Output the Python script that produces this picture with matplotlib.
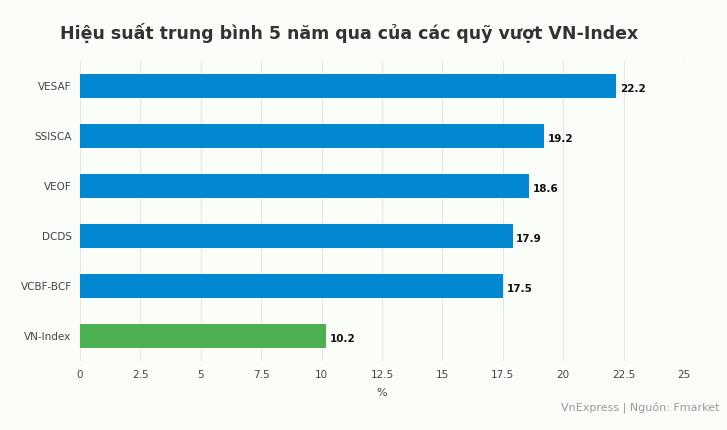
import matplotlib.pyplot as plt

funds = ["VESAF", "SSISCA", "VEOF", "DCDS", "VCBF-BCF", "VN-Index"]
returns = [22.2, 19.2, 18.6, 17.9, 17.5, 10.2]
colors = ["#0288d1"] * 5 + ["#4caf50"]
xticks = [0, 2.5, 5, 7.5, 10, 12.5, 15, 17.5, 20, 22.5, 25]

bg = "#fbfdf9"
fig = plt.figure(figsize=(7.27, 4.30), dpi=100, facecolor=bg)
ax = fig.add_axes([0.110, 0.160, 0.831, 0.698], facecolor=bg)

y = list(range(len(funds)))[::-1]
ax.barh(y, returns, height=0.48, color=colors, zorder=3)
for yi, v in zip(y, returns):
    ax.text(v + 0.15, yi - 0.05, f"{v}", va="center", ha="left",
            fontsize=7.5, fontweight="bold", color="#111111")

ax.set_yticks(y)
ax.set_yticklabels(funds, fontsize=7.5, color="#444444")
ax.set_xticks(xticks)
ax.set_xticklabels([f"{t:g}" for t in xticks], fontsize=7.5, color="#444444")
ax.set_xlim(0, 25)
ax.set_ylim(-0.5, 5.5)
ax.grid(axis="x", color="#e6e6e6", linewidth=0.8, zorder=0)
ax.tick_params(length=0, pad=6)
for s in ax.spines.values():
    s.set_visible(False)
ax.set_xlabel("%", fontsize=8, color="#444444", labelpad=6)

fig.text(0.48, 0.923, "Hiệu suất trung bình 5 năm qua của các quỹ vượt VN-Index",
         ha="center", va="center", fontsize=12.5, fontweight="bold", color="#333333")
fig.text(0.99, 0.053, "VnExpress | Nguồn: Fmarket", ha="right", va="center",
         fontsize=8, color="#999999")

fig.savefig("out.png", dpi=100, facecolor=bg)
